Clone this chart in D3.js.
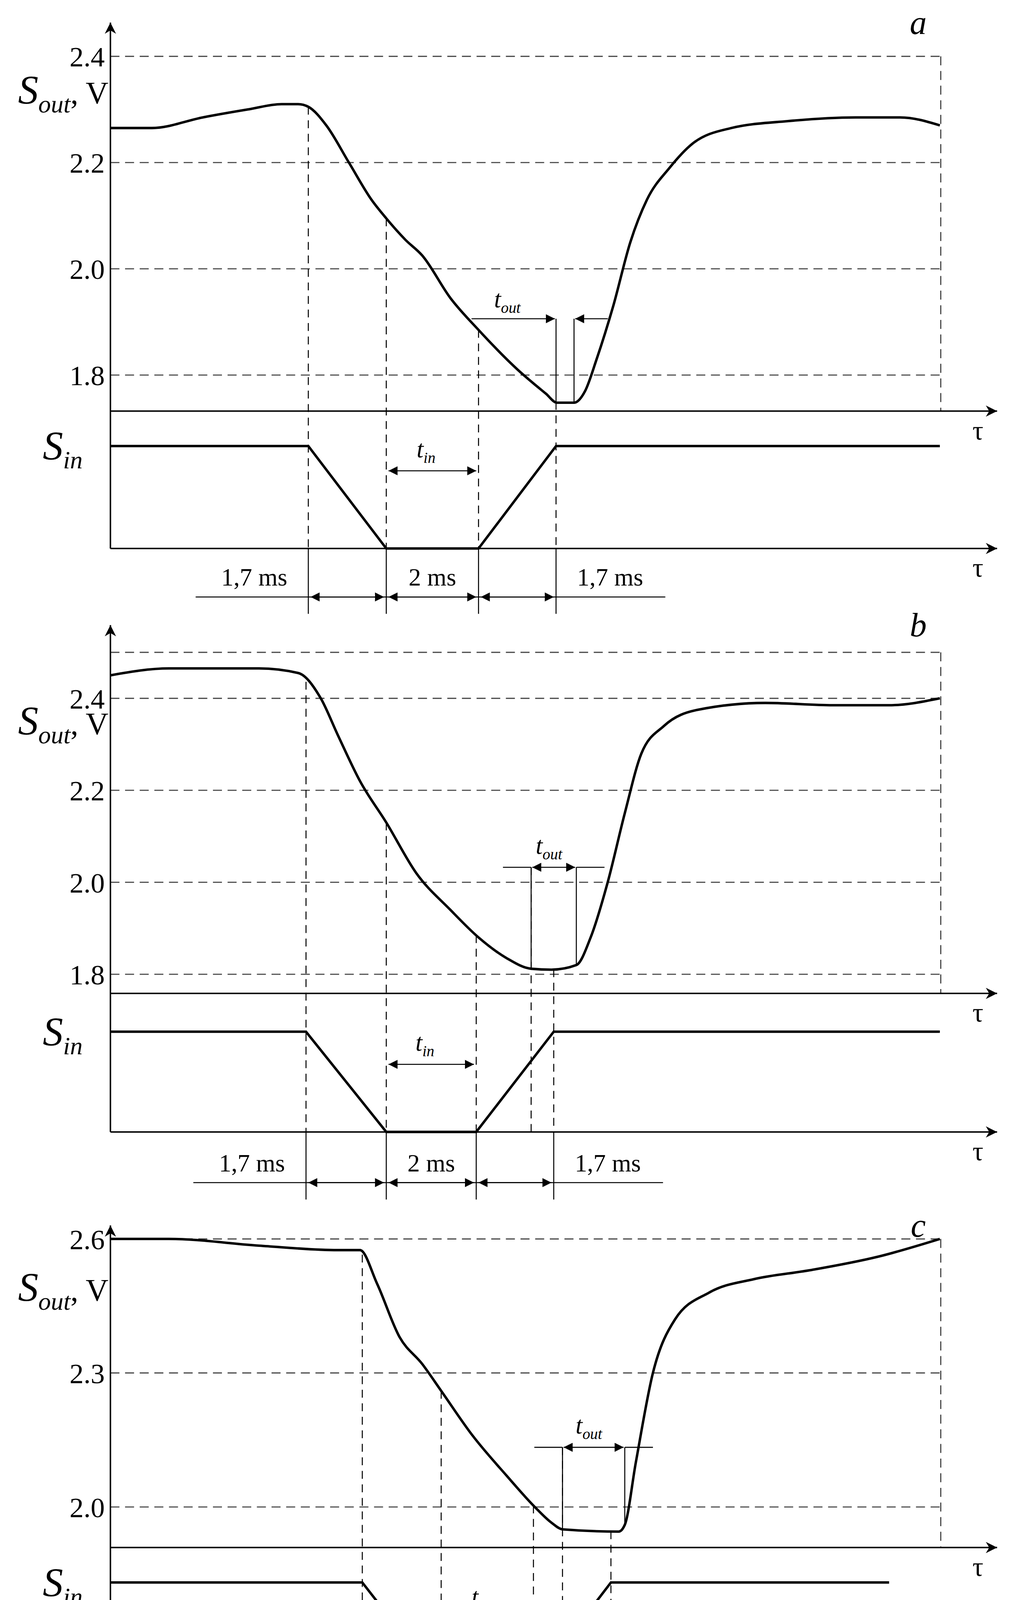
<!DOCTYPE html>
<html><head><meta charset="utf-8">
<script src="https://cdn.jsdelivr.net/npm/d3@7"></script>
<style>html,body{margin:0;padding:0;background:#fff;overflow:hidden}svg{display:block}</style>
</head><body>
<script>
// --- data (tau in ms, S_out in V) ---
const tauA = [0,0.9,2.0,2.98,3.71,4.07,4.29,4.68,5.17,5.66,5.98,6.39,6.76,7.37,7.98,8.83,9.44,9.68,10.05,10.29,10.54,10.9,11.27,11.63,12.12,12.61,13.46,14.68,16.15,17.12,17.98];
const outA = [2.265,2.265,2.285,2.30,2.31,2.31,2.305,2.27,2.2,2.13,2.095,2.055,2.025,1.945,1.885,1.81,1.765,1.748,1.748,1.77,1.83,1.93,2.05,2.13,2.19,2.235,2.265,2.278,2.285,2.285,2.27];
const tauB = [0,1.27,3.22,4.07,4.56,4.93,5.41,5.98,6.63,7.37,7.98,8.59,9.12,9.56,10.1,10.41,10.78,11.15,11.51,12.0,12.73,14.2,15.66,16.88,17.98];
const outB = [2.45,2.465,2.465,2.455,2.4,2.32,2.22,2.13,2.02,1.94,1.88,1.835,1.812,1.81,1.82,1.88,2.0,2.15,2.28,2.34,2.375,2.39,2.385,2.385,2.4];
const tauC = [0,1.27,3.22,4.93,5.41,5.78,6.27,6.76,7.17,7.85,8.59,9.2,9.56,9.8,11.02,11.15,11.39,11.76,12.24,12.98,13.95,15.17,16.63,17.98];
const outC = [2.6,2.6,2.585,2.575,2.575,2.5,2.38,2.32,2.26,2.16,2.07,2.0,1.965,1.95,1.945,1.96,2.1,2.3,2.42,2.48,2.51,2.53,2.56,2.6];
// input pulse corners
const sinTauA = [0,4.29,5.98,7.98,9.66,17.98];
const sinTauB = [0,4.24,5.98,7.93,9.61,17.98];
const sinTauC = [0,5.46,7.17,9.17,10.85,16.88];
const sinLevel = [1,1,0,0,1,1];
const ticksA = [1.8,2.0,2.2,2.4], ticksB = [1.8,2.0,2.2,2.4], ticksC = [2.0,2.3,2.6];
const dimLabels = ['1,7 ms','2 ms','1,7 ms'];

const panels = [
  {tau:tauA,out:outA,sin:sinTauA,ticks:ticksA,dom:[1.8,2.4],rng:[333,50],top:20,axY:365,hi:396,lo:487,dimY:530,letter:'a',extra:2.4,tout:[9.66,10.05],toutY:283,toutMode:'in',tinY:418,lblY:92},
  {tau:tauB,out:outB,sin:sinTauB,ticks:ticksB,dom:[1.8,2.4],rng:[865,620],top:555,axY:882,hi:916,lo:1005,dimY:1050,letter:'b',extra:2.5,tout:[9.12,10.1],toutY:770,toutMode:'out',tinY:945,lblY:652},
  {tau:tauC,out:outC,sin:sinTauC,ticks:ticksC,dom:[2.0,2.6],rng:[1338,1100],top:1088,axY:1374,hi:1405,lo:1495,dimY:1538,letter:'c',extra:2.6,tout:[9.8,11.15],toutY:1285,toutMode:'out',tinY:1437,lblY:1155}
];

const svg = d3.select('body').append('svg')
  .attr('width',2595).attr('height',4494).attr('viewBox','0 0 900 1558.6');
const defs = svg.append('defs');
defs.append('marker').attr('id','ah').attr('viewBox','0 0 10 10')
  .attr('refX',10).attr('refY',5).attr('markerWidth',12).attr('markerHeight',8)
  .attr('markerUnits','userSpaceOnUse').attr('orient','auto-start-reverse')
  .append('path').attr('d','M0,0L10,5L0,10z').attr('fill','#000');
defs.append('marker').attr('id','big').attr('viewBox','0 0 10 10')
  .attr('refX',10).attr('refY',5).attr('markerWidth',22).attr('markerHeight',10)
  .attr('markerUnits','userSpaceOnUse').attr('orient','auto')
  .append('path').attr('d','M0,0L10,5L0,10L3,5z').attr('fill','#000');

const x = d3.scaleLinear().domain([0,18]).range([98,835]);
const font = "'Liberation Serif', serif";

function line(g,x1,y1,x2,y2,w,dash,m1,m2){
  const l=g.append('line').attr('x1',x1).attr('y1',y1).attr('x2',x2).attr('y2',y2)
    .attr('stroke','#000').attr('stroke-width',w||1);
  if(dash) l.attr('stroke-dasharray',dash);
  if(m1) l.attr('marker-start',m1); if(m2) l.attr('marker-end',m2);
  return l;
}
function txt(g,x0,y0,s,size,anchor,italic){
  return g.append('text').attr('x',x0).attr('y',y0).attr('font-family',font)
    .attr('font-size',size).attr('text-anchor',anchor||'start')
    .attr('font-style',italic?'italic':'normal').text(s);
}
function sub(g,x0,y0,a,b,size){
  const t=g.append('text').attr('x',x0).attr('y',y0).attr('font-family',font).attr('font-size',size).attr('font-style','italic');
  t.append('tspan').text(a);
  t.append('tspan').attr('font-size',size*0.62).attr('dy',size*0.22).text(b);
  return t;
}

panels.forEach(p=>{
  const g = svg.append('g');
  const y = d3.scaleLinear().domain(p.dom).range(p.rng);
  const yTop = y(p.extra);
  // grid
  const gridTicks = p.ticks.concat(p.extra>d3.max(p.ticks)?[p.extra]:[]);
  gridTicks.forEach(t=>line(g,x(0),y(t),x(18),y(t),1,'8,5').attr('stroke','#444'));
  line(g,x(18),yTop,x(18),p.axY,1,'8,5').attr('stroke','#444');
  // y axis
  line(g,x(0),p.lo,x(0),p.top,1.3,null,null,'url(#big)');
  p.ticks.forEach(t=>txt(g,x(0)-5,y(t)+9,d3.format('.1f')(t),25,'end'));
  // tau axes
  line(g,x(0),p.axY,885,p.axY,1.3,null,null,'url(#big)');
  line(g,x(0),p.lo,885,p.lo,1.3,null,null,'url(#big)');
  txt(g,868,p.axY+25,'τ',24,'middle');
  txt(g,868,p.lo+25,'τ',24,'middle');
  // labels
  sub(g,16,p.lblY,'S','out',36).append('tspan').attr('font-style','normal').attr('font-size',28).attr('dy',-8).text(', V');
  sub(g,38,p.hi+12,'S','in',36);
  txt(g,815,p.top+10,p.letter,30,'middle',true);
  // S_out curve
  g.append('path').attr('fill','none').attr('stroke','#000').attr('stroke-width',2.2)
    .attr('d',d3.line().curve(d3.curveMonotoneX).x(d=>x(d[0])).y(d=>y(d[1]))(p.tau.map((t,i)=>[t,p.out[i]])));
  // S_in pulse
  const ys = d3.scaleLinear().domain([0,1]).range([p.lo,p.hi]);
  g.append('path').attr('fill','none').attr('stroke','#000').attr('stroke-width',2.2)
    .attr('d',d3.line().x(d=>x(d[0])).y(d=>ys(d[1]))(p.sin.map((t,i)=>[t,sinLevel[i]])));
  // vertical guides at pulse corners
  const corners = p.sin.slice(1,5);
  const curveAt = t=>y(d3.scaleLinear().domain(p.tau).range(p.out)(t));
  corners.forEach(t=>{
    line(g,x(t),curveAt(t),x(t),p.lo,0.9,'7,5');
    line(g,x(t),p.lo,x(t),p.dimY+15,0.9);
  });
  if(p.letter!=='a') line(g,x(p.tout[0]),p.toutY,x(p.tout[0]),p.lo,0.9,'7,5');
  // dimension line
  line(g,x(corners[0])-100,p.dimY,x(corners[3])+97,p.dimY,0.9);
  for(let i=0;i<3;i++) line(g,x(corners[i])+2,p.dimY,x(corners[i+1])-2,p.dimY,0.9,null,'url(#ah)','url(#ah)');
  txt(g,x(corners[0])-48,p.dimY-10,dimLabels[0],22,'middle');
  txt(g,(x(corners[1])+x(corners[2]))/2,p.dimY-10,dimLabels[1],22,'middle');
  txt(g,x(corners[3])+48,p.dimY-10,dimLabels[2],22,'middle');
  // t_in
  line(g,x(corners[1])+2,p.tinY,x(corners[2])-2,p.tinY,0.9,null,'url(#ah)','url(#ah)');
  sub(g,(x(corners[1])+x(corners[2]))/2-14,p.tinY-12,'t','in',22);
  // t_out
  const [o1,o2]=p.tout.map(x);
  line(g,o1,p.toutY,o1,curveAt(p.tout[0]),0.9);
  line(g,o2,p.toutY,o2,curveAt(p.tout[1]),0.9);
  if(p.toutMode==='in'){
    line(g,o1-75,p.toutY,o1-1,p.toutY,0.9,null,null,'url(#ah)');
    line(g,o2+30,p.toutY,o2+1,p.toutY,0.9,null,null,'url(#ah)');
    sub(g,o1-55,p.toutY-10,'t','out',22);
  } else {
    line(g,o1-25,p.toutY,o1,p.toutY,0.9);
    line(g,o1+1,p.toutY,o2-1,p.toutY,0.9,null,'url(#ah)','url(#ah)');
    line(g,o2,p.toutY,o2+25,p.toutY,0.9);
    sub(g,(o1+o2)/2-16,p.toutY-12,'t','out',22);
  }
});
</script>
</body></html>
